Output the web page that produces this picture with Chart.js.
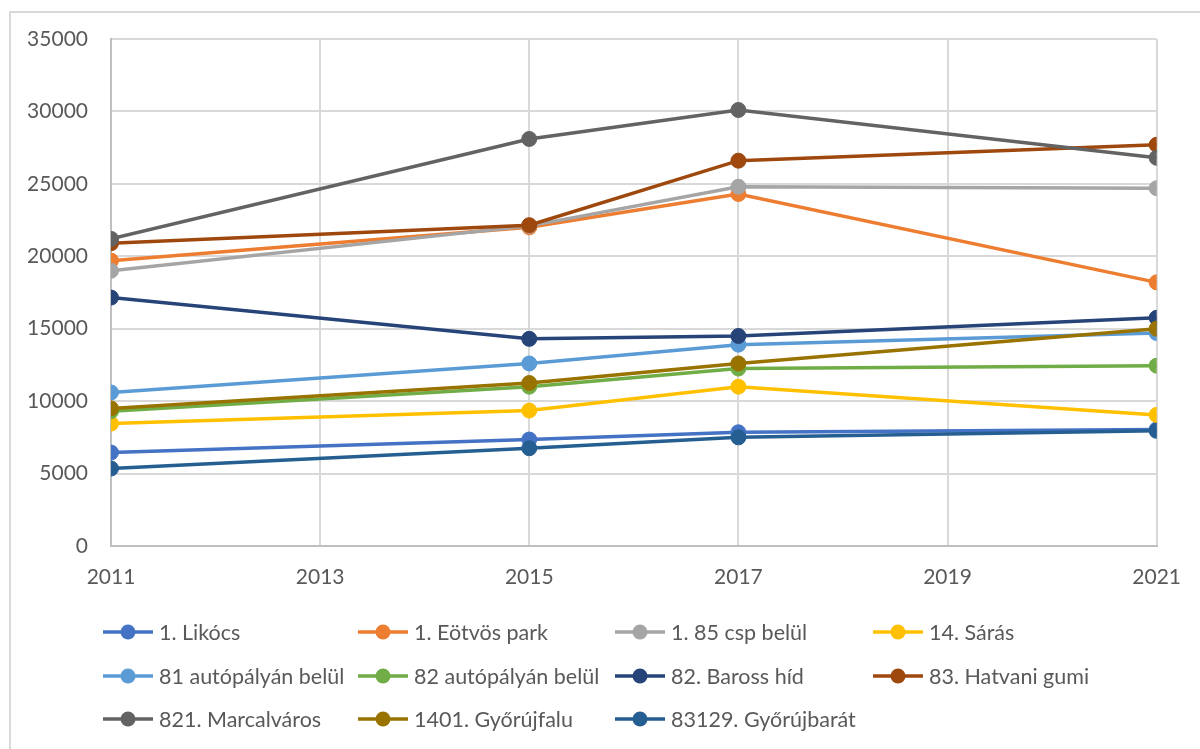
<!DOCTYPE html>
<html>
<head>
<meta charset="utf-8">
<script src="https://cdn.jsdelivr.net/npm/chart.js@4/dist/chart.umd.min.js"></script>
<style>
  body { margin: 0; background: #fff; }
  #wrap { position: relative; width: 1200px; height: 749px; overflow: hidden; }
  #frame { position: absolute; left: 9px; top: 11px; width: 1300px; height: 800px;
           border-left: 2px solid #d9d9d9; border-top: 2px solid #d9d9d9; }
  canvas { position: absolute; left: 0; top: 0; }
</style>
</head>
<body>
<div id="wrap">
  <div id="frame"></div>
  <canvas id="chart" width="1200" height="749"></canvas>
</div>
<script>
// years measured
const years = [2011, 2015, 2017, 2021];
const yearTicks = [2011, 2013, 2015, 2017, 2019, 2021];

const names = [
  '1. Likócs', '1. Eötvös park', '1. 85 csp belül', '14. Sárás',
  '81 autópályán belül', '82 autópályán belül', '82. Baross híd', '83. Hatvani gumi',
  '821. Marcalváros', '1401. Győrújfalu', '83129. Győrújbarát'
];

const likocs      = [6450, 7350, 7850, 8050];
const eotvos      = [19700, 22000, 24300, 18200];
const csp85       = [19000, 22100, 24800, 24700];
const saras       = [8450, 9350, 11000, 9050];
const auto81      = [10600, 12600, 13900, 14700];
const auto82      = [9300, 11000, 12250, 12450];
const baross      = [17150, 14300, 14500, 15750];
const hatvani     = [20900, 22150, 26600, 27700];
const marcalvaros = [21200, 28100, 30100, 26800];
const gyorujfalu  = [9500, 11250, 12600, 15000];
const gyorujbarat = [5350, 6750, 7500, 7950];

const seriesValues = [likocs, eotvos, csp85, saras, auto81, auto82, baross, hatvani, marcalvaros, gyorujfalu, gyorujbarat];

const colors = ['#4472C4', '#ED7D31', '#A5A5A5', '#FFC000', '#5B9BD5', '#70AD47',
                '#264478', '#9E480E', '#636363', '#997300', '#255E91'];

const FONT = 'Lato, "Open Sans", sans-serif';
const TEXT = '#595959';

const datasets = names.map((name, i) => ({
  label: name,
  data: years.map((yr, j) => ({ x: yr, y: seriesValues[i][j] })),
  borderColor: colors[i],
  backgroundColor: colors[i],
  pointBackgroundColor: colors[i],
  pointBorderColor: colors[i],
  borderWidth: 3.5,
  pointRadius: 7.5,
  pointBorderWidth: 1,
  tension: 0,
  order: -i   // later series on top, like excel
}));

// legend in 4 columns, 3 rows
const legendGrid = {
  id: 'legendGrid',
  afterDraw(chart) {
    const ctx = chart.ctx;
    const colX = [103, 358, 615, 873];
    const rowY = [632, 676, 719];
    ctx.save();
    chart.data.datasets.forEach((ds, i) => {
      const x0 = colX[i % 4];
      const y = rowY[Math.floor(i / 4)];
      ctx.strokeStyle = ds.borderColor;
      ctx.lineWidth = 3.5;
      ctx.beginPath();
      ctx.moveTo(x0, y);
      ctx.lineTo(x0 + 50, y);
      ctx.stroke();
      ctx.fillStyle = ds.borderColor;
      ctx.beginPath();
      ctx.arc(x0 + 25, y, 7.5, 0, Math.PI * 2);
      ctx.fill();
      ctx.fillStyle = TEXT;
      ctx.font = '21.5px ' + FONT;
      ctx.textBaseline = 'middle';
      ctx.textAlign = 'left';
      ctx.fillText(ds.label, x0 + 56, y + 1);
    });
    ctx.restore();
  }
};

new Chart(document.getElementById('chart').getContext('2d'), {
  type: 'line',
  data: { datasets: datasets },
  plugins: [legendGrid],
  options: {
    responsive: false,
    animation: false,
    layout: { padding: { top: 39, right: 43, left: 0, bottom: 0 } },
    plugins: { legend: { display: false }, tooltip: { enabled: false } },
    scales: {
      x: {
        type: 'linear',
        min: 2011,
        max: 2021,
        afterBuildTicks: (s) => { s.ticks = yearTicks.map(v => ({ value: v })); },
        afterFit: (s) => { s.height = 203; },
        grid: { color: '#d9d9d9', lineWidth: 2, drawTicks: false },
        border: { color: '#bfbfbf', width: 2 },
        ticks: {
          color: TEXT,
          font: { family: FONT, size: 21 },
          padding: 19,
          maxRotation: 0,
          callback: (v) => String(v)
        }
      },
      y: {
        min: 0,
        max: 35000,
        afterFit: (s) => { s.width = 111; },
        grid: { color: '#d9d9d9', lineWidth: 2, drawTicks: false },
        border: { color: '#bfbfbf', width: 2 },
        ticks: {
          stepSize: 5000,
          color: TEXT,
          font: { family: FONT, size: 21 },
          padding: 23,
          callback: (v) => String(v)
        }
      }
    }
  }
});
</script>
</body>
</html>
